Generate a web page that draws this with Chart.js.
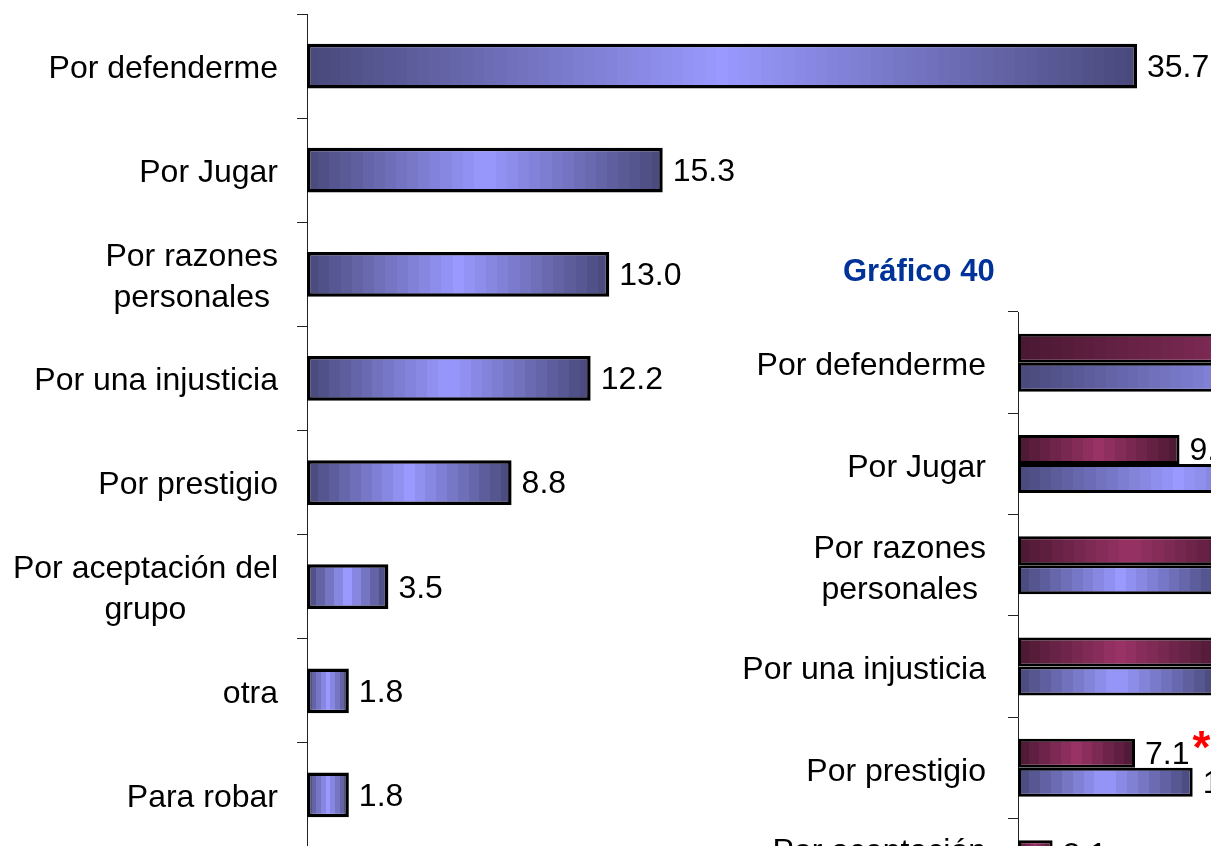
<!DOCTYPE html>
<html lang="es">
<head>
<meta charset="utf-8">
<title>Gráfico 40</title>
<script src="https://cdn.jsdelivr.net/npm/chart.js@4.4.1/dist/chart.umd.min.js"></script>
<style>
  html, body { margin: 0; padding: 0; background: #fff; overflow: hidden; }
  body { width: 1211px; height: 846px; position: relative; }
  canvas { position: absolute; left: 0; top: 0; }
  #titulo40 {
    position: absolute; left: 843px; top: 255px;
    font: bold 31px "Liberation Sans", Arial, sans-serif; line-height: 31px;
    color: #003399; white-space: nowrap;
  }
</style>
</head>
<body>
<canvas id="graficoTotal" width="1211" height="860"></canvas>
<div id="titulo40">Gráfico 40</div>
<canvas id="graficoSexo" width="1800" height="1150"></canvas>
<script>
'use strict';

// Total
const categorias = ['Por defenderme', 'Por Jugar', ['Por razones', 'personales'], 'Por una injusticia',
  'Por prestigio', ['Por aceptación del', 'grupo'], 'otra', 'Para robar'];
const totalValores = [35.7, 15.3, 13.0, 12.2, 8.8, 3.5, 1.8, 1.8];

// Gráfico 40, por sexo
const categoriasSexo = ['Por defenderme', 'Por Jugar', ['Por razones', 'personales'], 'Por una injusticia',
  'Por prestigio', ['Por aceptación', 'del grupo'], 'otra', 'Para robar'];
const mujeresValores = [37.5, 9.8, 13.6, 12.4, 7.1, 2.1, 1.6, 0.9];
const hombresValores = [33.9, 19.5, 12.4, 12.0, 10.6, 4.9, 2.0, 2.7];
const diferenciaSignificativa = [false, false, false, false, true, false, false, false];

const AZUL_OSCURO = [72, 72, 122];
const AZUL_CLARO = [153, 153, 255];
const GRANATE_OSCURO = [74, 24, 50];
const GRANATE_CLARO = [153, 51, 102];

const FUENTE = '"Liberation Sans", Arial, sans-serif';
Chart.defaults.font.family = FUENTE;

function mezcla(a, b, t) {
  return 'rgb(' + a.map((v, i) => Math.round(v + (b[i] - v) * t)).join(',') + ')';
}

// banded gradient: dark at both ends of the bar, light in the middle
function degradado(oscuro, claro) {
  return function (context) {
    const chart = context.chart;
    const xScale = chart.scales.x;
    if (!chart.chartArea || !xScale || context.raw == null) return mezcla(oscuro, claro, 0.6);
    const x0 = xScale.getPixelForValue(0);
    const x1 = xScale.getPixelForValue(context.raw);
    const g = chart.ctx.createLinearGradient(x0, 0, x1, 0);
    const n = Math.max(9, Math.round(Math.abs(x1 - x0) / 11));
    for (let i = 0; i < n; i++) {
      const t = (i + 0.5) / n;
      const c = mezcla(oscuro, claro, 1 - Math.abs(2 * t - 1));
      g.addColorStop(i / n, c);
      g.addColorStop((i + 1) / n, c);
    }
    return g;
  };
}

// category names left of the axis and values at the end of each bar
const etiquetas = {
  id: 'etiquetas',
  afterDatasetsDraw(chart, args, opts) {
    const ctx = chart.ctx;
    const yScale = chart.scales.y;
    ctx.save();
    ctx.font = '32px ' + FUENTE;
    ctx.fillStyle = '#000';
    ctx.textBaseline = 'middle';
    ctx.textAlign = 'center';
    chart.data.labels.forEach((lab, i) => {
      const lineas = Array.isArray(lab) ? lab : [lab];
      const yc = yScale.getPixelForValue(i) + opts.bajada;
      const ancho = Math.max(...lineas.map(l => ctx.measureText(l).width));
      const xc = chart.chartArea.left - opts.separacion - ancho / 2;
      lineas.forEach((l, k) => {
        ctx.fillText(l, xc, yc + (k - (lineas.length - 1) / 2) * 41);
      });
    });

    ctx.textAlign = 'left';
    chart.data.datasets.forEach((ds, d) => {
      chart.getDatasetMeta(d).data.forEach((bar, i) => {
        const texto = ds.data[i].toFixed(1);
        const x = bar.x + 10;
        ctx.font = '32px ' + FUENTE;
        ctx.fillStyle = '#000';
        ctx.fillText(texto, x, bar.y + 2);
        if (ds.marcas && ds.marcas[i]) {
          const fin = x + ctx.measureText(texto).width;
          ctx.font = 'bold 46px ' + FUENTE;
          ctx.fillStyle = '#ff0000';
          ctx.fillText('*', fin + 3, bar.y - 3);
        }
      });
    });
    ctx.restore();
  }
};

function ejeY() {
  return {
    grid: { drawOnChartArea: false, drawTicks: true, tickLength: 10, color: '#222', offset: true },
    border: { display: true, color: '#222', width: 1 },
    ticks: { display: false }
  };
}

const graficoTotal = new Chart(document.getElementById('graficoTotal').getContext('2d'), {
  type: 'bar',
  data: {
    labels: categorias,
    datasets: [{
      label: 'Total',
      data: totalValores,
      backgroundColor: degradado(AZUL_OSCURO, AZUL_CLARO),
      borderColor: '#000',
      borderWidth: 3.5,
      borderSkipped: false,
      barPercentage: 1,
      categoryPercentage: 0.43
    }]
  },
  options: {
    indexAxis: 'y',
    responsive: false,
    animation: false,
    layout: { padding: { left: 297, top: 14, bottom: 13, right: 67 } },
    scales: {
      x: { display: false, min: 0, max: 36 },
      y: ejeY()
    },
    plugins: {
      legend: { display: false },
      tooltip: { enabled: false },
      etiquetas: { separacion: 29, bajada: 3 }
    }
  },
  plugins: [etiquetas]
});

const graficoSexo = new Chart(document.getElementById('graficoSexo').getContext('2d'), {
  type: 'bar',
  data: {
    labels: categoriasSexo,
    datasets: [{
      label: 'Mujeres',
      data: mujeresValores,
      marcas: diferenciaSignificativa,
      backgroundColor: degradado(GRANATE_OSCURO, GRANATE_CLARO),
      borderColor: '#000',
      borderWidth: 3,
      borderSkipped: false,
      barPercentage: 1,
      categoryPercentage: 0.573
    }, {
      label: 'Hombres',
      data: hombresValores,
      backgroundColor: degradado(AZUL_OSCURO, AZUL_CLARO),
      borderColor: '#000',
      borderWidth: 3,
      borderSkipped: false,
      barPercentage: 1,
      categoryPercentage: 0.573
    }]
  },
  options: {
    indexAxis: 'y',
    responsive: false,
    animation: false,
    layout: { padding: { left: 1008, top: 312, bottom: 27.6, right: 40.4 } },
    scales: {
      x: { display: false, min: 0, max: 45 },
      y: ejeY()
    },
    plugins: {
      legend: { display: false },
      tooltip: { enabled: false },
      etiquetas: { separacion: 32, bajada: 4 }
    }
  },
  plugins: [etiquetas]
});
</script>
</body>
</html>
